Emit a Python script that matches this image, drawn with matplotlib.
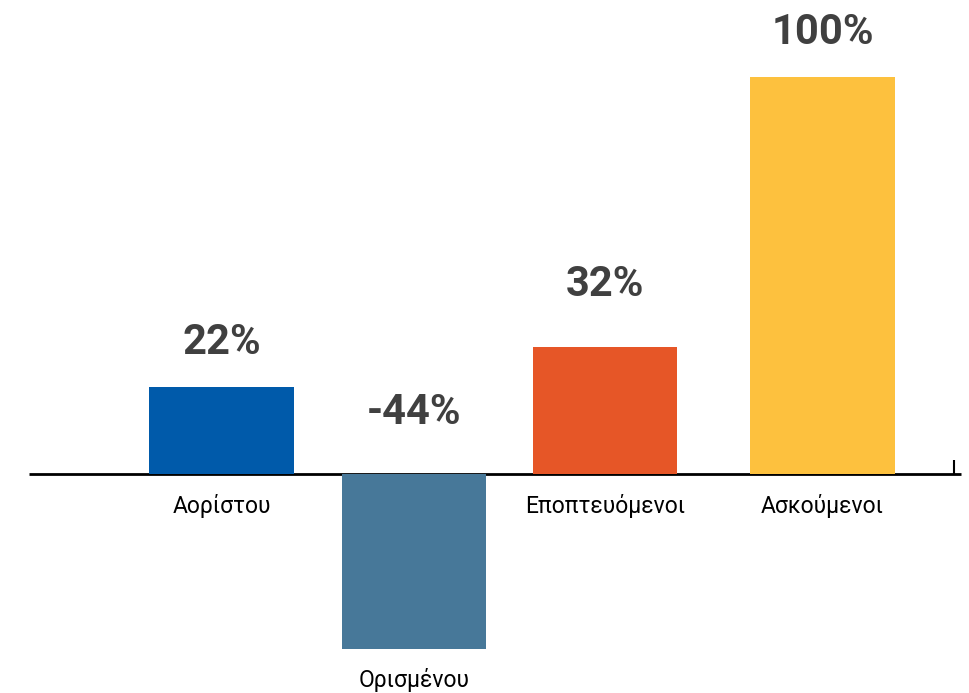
import matplotlib
matplotlib.use('Agg')
from matplotlib import pyplot as plt

categories = ['Αορίστου', 'Ορισμένου', 'Εποπτευόμενοι', 'Ασκούμενοι']
values = [22, -44, 32, 100]
colors = ['#005AAA', '#477899', '#E65627', '#FDC13E']

# layout: bar centres along x (slightly uneven in the original)
xpos = [0, 1, 1.99, 3.12]
# vertical gap (points) between bar end / zero line and the value label
label_gap = [32, 44, 45, 32]

plt.rcParams['font.family'] = ['Roboto', 'DejaVu Sans']

fig = plt.figure(figsize=(9.69, 6.93), dpi=100)
ax = fig.add_axes([0, 0, 1, 1])
ax.set_xlim(-1.15, 3.88)
ax.set_ylim(-55.2, 119.4)
ax.axis('off')

# zero line and lone tick at the right end
ax.hlines(0, -1.0, 3.84, color='black', lw=2, zorder=1)
ax.vlines(3.80, 0, 3.6, color='black', lw=1.5, zorder=1)

bars = ax.bar(xpos, values, width=0.75, color=colors, zorder=2)

for x, v, name, gap in zip(xpos, values, categories, label_gap):
    top = v if v >= 0 else 0
    bottom = 0 if v >= 0 else v
    ax.annotate(f'{v}%', (x, top), xytext=(0, gap), textcoords='offset points',
                ha='center', va='center', fontsize=30, fontweight='bold', color='#404040')
    ax.annotate(name, (x, bottom), xytext=(0, -23), textcoords='offset points',
                ha='center', va='center', fontsize=16.5, color='black')

fig.savefig('out.png', dpi=100)
